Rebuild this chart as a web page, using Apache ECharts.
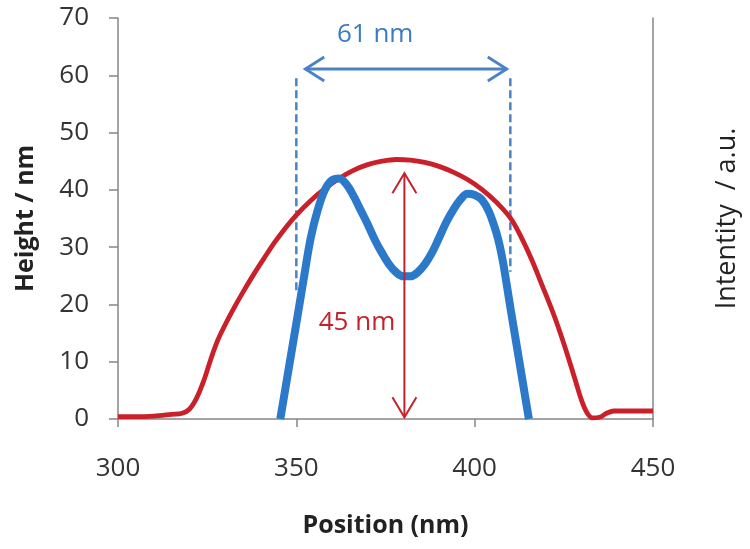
<!DOCTYPE html>
<html>
<head>
<meta charset="utf-8">
<script src="https://cdn.jsdelivr.net/npm/echarts@6/dist/echarts.min.js"></script>
<style>html,body{margin:0;padding:0;background:#fff}#c{width:750px;height:549px}</style>
</head>
<body>
<div id="c"></div>
<script>
// Height profile (red), left axis
const heightPos = [300,305,310,315,318,320,322,324,326,328,330,332,335,338,341,344,347,350,354,358,362,366,370,374,378,382,386,390,394,398,402,406,410,413,416,419,422,424,426,428,430,431.5,433,435,437,439,445,450];
const heightVal = [0.4,0.4,0.5,0.8,1.0,1.7,3.6,6.6,10.4,13.8,16.4,18.8,22.1,25.2,28.1,30.9,33.4,35.6,38.1,40.2,42.0,43.4,44.4,45.0,45.3,45.2,44.8,44.1,43.1,41.8,40.1,37.9,35.1,31.8,27.8,23.2,18.5,15.0,11.2,7.2,3.2,1.1,0.2,0.3,1.0,1.4,1.4,1.4];
// Intensity profile (blue), right axis
const intensityPos = [345.5,348,350,352,354,356,358,360,362,364,366,368,370,372,374,376,378,380,382,384,386,388,390,392,394,396,398,400,402,404,406,407,408,410,412,414,415.2];
const intensityVal = [0,9.3,16.7,24.2,31.5,36.5,40,41.7,42,41,39,36.5,34,31.3,29,27,25.6,24.9,24.9,25.6,27,29,31.6,34.3,36.5,38.3,39.3,39.1,38.3,36.2,32.7,30.3,27.2,19.5,12,4.5,0];
// Axis ticks
const xTicks = [300,350,400,450];
const yTicks = [0,10,20,30,40,50,60,70];
// Annotations (data coordinates)
const dashGuides = [[350,59.5,22.2],[410,59.5,25.7]];      // x, yTop, yBottom
const widthArrow = [[352.5,409,61.1]];                     // xStart, xEnd, y
const heightArrow = [[380.3,42.9,0.3]];                    // x, yTop, yBottom
const labelText = ['61 nm','45 nm'];
const labelPos = [[372.1,67.1],[367.0,16.9]];

const redColor = '#c9202a';
const blueColor = '#2b79c8';
const annBlue = '#4a82c6';
const axisGray = '#868686';
const font = '"Open Sans", sans-serif';

const chart = echarts.init(document.getElementById('c'));
chart.setOption({
  animation: false,
  backgroundColor: '#fff',
  grid: {left: 118, right: 97, top: 18, bottom: 130},
  xAxis: {
    type: 'value', min: xTicks[0], max: xTicks[xTicks.length-1], interval: 50,
    name: 'Position (nm)', nameLocation: 'middle', nameGap: 94,
    nameTextStyle: {fontSize: 25, fontWeight: 'bold', color: '#222', fontFamily: font},
    axisLine: {lineStyle: {color: axisGray, width: 1.5}},
    axisTick: {show: true, length: 8, lineStyle: {color: axisGray, width: 1.5}},
    axisLabel: {fontSize: 26, color: '#333', margin: 37, fontFamily: font},
    splitLine: {show: false}
  },
  yAxis: [{
    type: 'value', min: yTicks[0], max: yTicks[yTicks.length-1], interval: 10,
    name: 'Height / nm', nameLocation: 'middle', nameGap: 80,
    nameTextStyle: {fontSize: 25, fontWeight: 'bold', color: '#222', fontFamily: font},
    axisLine: {show: true, lineStyle: {color: axisGray, width: 1.5}},
    axisTick: {show: true, length: 9, lineStyle: {color: axisGray, width: 1.5}},
    axisLabel: {fontSize: 26, color: '#333', margin: 29, fontFamily: font},
    splitLine: {show: false}
  },{
    type: 'value', position: 'right', min: 0, max: 70, interval: 10,
    name: 'Intentity  / a.u.', nameLocation: 'middle', nameGap: 61,
    nameTextStyle: {fontSize: 27, color: '#222', fontFamily: font},
    axisLine: {show: true, lineStyle: {color: axisGray, width: 1.5}},
    axisTick: {show: false}, axisLabel: {show: false}, splitLine: {show: false}
  }],
  series: [
    {
      type: 'line', name: 'Height', yAxisIndex: 0, showSymbol: false, smooth: 0.35,
      data: heightPos.map((x,i)=>[x,heightVal[i]]),
      lineStyle: {color: redColor, width: 4.8}, z: 3
    },
    {
      type: 'line', name: 'Intensity', yAxisIndex: 1, showSymbol: false, smooth: 0.35,
      data: intensityPos.map((x,i)=>[x,intensityVal[i]]),
      lineStyle: {color: blueColor, width: 8}, z: 4
    },
    {
      type: 'custom', xAxisIndex: 0, yAxisIndex: 0, z: 2, silent: true,
      data: dashGuides,
      renderItem: function(params, api){
        const p1 = api.coord([api.value(0), api.value(1)]);
        const p2 = api.coord([api.value(0), api.value(2)]);
        return {type:'line', shape:{x1:p1[0],y1:p1[1],x2:p2[0],y2:p2[1]},
          style:{stroke: annBlue, lineWidth: 2.5, lineDash:[8,4]}};
      }
    },
    {
      type: 'custom', xAxisIndex: 0, yAxisIndex: 0, z: 5, silent: true,
      data: widthArrow,
      renderItem: function(params, api){
        const a = api.coord([api.value(0), api.value(2)]);
        const b = api.coord([api.value(1), api.value(2)]);
        const st = {stroke: annBlue, lineWidth: 2.8, fill: 'none'};
        return {type:'group', children:[
          {type:'line', shape:{x1:a[0],y1:a[1],x2:b[0],y2:b[1]}, style:st},
          {type:'polyline', shape:{points:[[a[0]+19,a[1]-12],[a[0],a[1]],[a[0]+19,a[1]+12]]}, style:st},
          {type:'polyline', shape:{points:[[b[0]-19,b[1]-12],[b[0],b[1]],[b[0]-19,b[1]+12]]}, style:st}
        ]};
      }
    },
    {
      type: 'custom', xAxisIndex: 0, yAxisIndex: 0, z: 6, silent: true,
      data: heightArrow,
      renderItem: function(params, api){
        const a = api.coord([api.value(0), api.value(1)]);
        const b = api.coord([api.value(0), api.value(2)]);
        const st = {stroke: '#c4232b', lineWidth: 2, fill: 'none'};
        return {type:'group', children:[
          {type:'line', shape:{x1:a[0],y1:a[1],x2:b[0],y2:b[1]}, style:st},
          {type:'polyline', shape:{points:[[a[0]-12,a[1]+20],[a[0],a[1]],[a[0]+12,a[1]+20]]}, style:st},
          {type:'polyline', shape:{points:[[b[0]-12,b[1]-20],[b[0],b[1]],[b[0]+12,b[1]-20]]}, style:st}
        ]};
      }
    },
    {
      type: 'custom', xAxisIndex: 0, yAxisIndex: 0, z: 7, silent: true, clip: false,
      data: labelPos.map((p,i)=>[p[0],p[1],i]),
      renderItem: function(params, api){
        const i = api.value(2);
        const p = api.coord([api.value(0), api.value(1)]);
        return {type:'text', style:{text: labelText[i], x:p[0], y:p[1],
          fill: i===0 ? '#3a7cc4' : '#c4232b', fontSize: 26, fontFamily: font,
          align:'center', verticalAlign:'middle'}};
      }
    }
  ]
});
</script>
</body>
</html>
